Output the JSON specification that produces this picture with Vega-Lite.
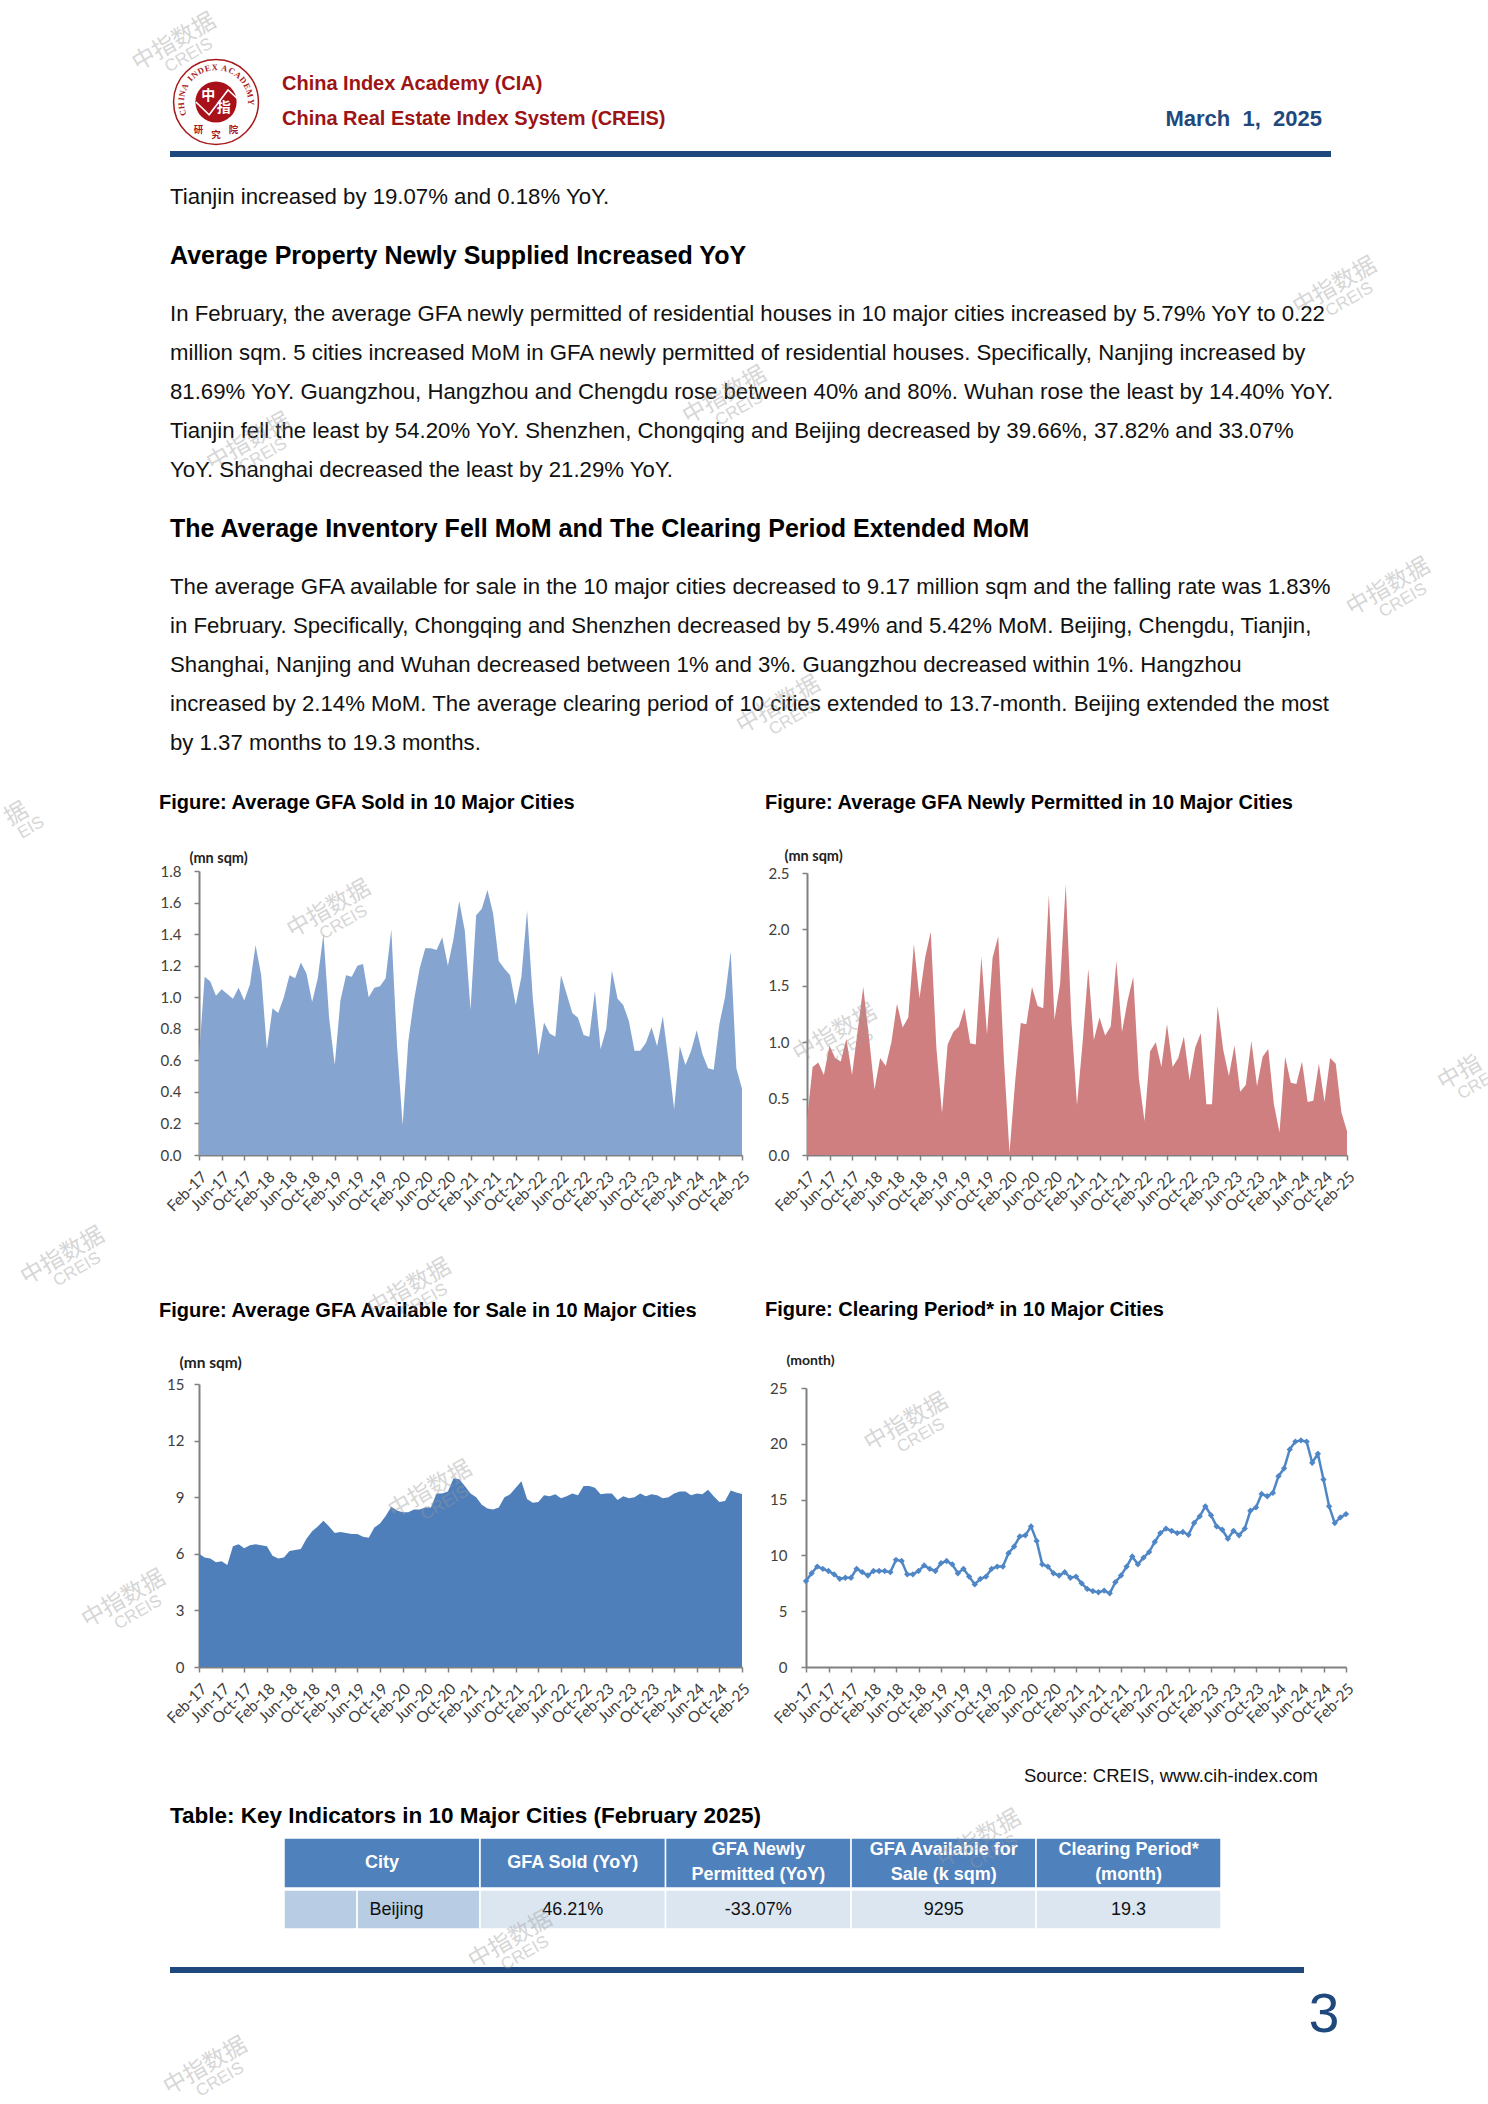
{"$schema":"https://vega.github.io/schema/vega-lite/v6.json","padding":0,"background":"white","config":{"view":{"stroke":null},"concat":{"spacing":0},"text":{"font":"Liberation Sans"}},
"datasets":{"blank":[{}],
"lines":[{"line":0,"kind":"body","text":"Tianjin increased by 19.07% and 0.18% YoY."},{"line":1.5,"kind":"head","text":"Average Property Newly Supplied Increased YoY"},{"line":3,"kind":"body","text":"In February, the average GFA newly permitted of residential houses in 10 major cities increased by 5.79% YoY to 0.22"},{"line":4,"kind":"body","text":"million sqm. 5 cities increased MoM in GFA newly permitted of residential houses. Specifically, Nanjing increased by"},{"line":5,"kind":"body","text":"81.69% YoY. Guangzhou, Hangzhou and Chengdu rose between 40% and 80%. Wuhan rose the least by 14.40% YoY."},{"line":6,"kind":"body","text":"Tianjin fell the least by 54.20% YoY. Shenzhen, Chongqing and Beijing decreased by 39.66%, 37.82% and 33.07%"},{"line":7,"kind":"body","text":"YoY. Shanghai decreased the least by 21.29% YoY."},{"line":8.5,"kind":"head","text":"The Average Inventory Fell MoM and The Clearing Period Extended MoM"},{"line":10,"kind":"body","text":"The average GFA available for sale in the 10 major cities decreased to 9.17 million sqm and the falling rate was 1.83%"},{"line":11,"kind":"body","text":"in February. Specifically, Chongqing and Shenzhen decreased by 5.49% and 5.42% MoM. Beijing, Chengdu, Tianjin,"},{"line":12,"kind":"body","text":"Shanghai, Nanjing and Wuhan decreased between 1% and 3%. Guangzhou decreased within 1%. Hangzhou"},{"line":13,"kind":"body","text":"increased by 2.14% MoM. The average clearing period of 10 cities extended to 13.7-month. Beijing extended the most"},{"line":14,"kind":"body","text":"by 1.37 months to 19.3 months."}],
"ring":[{"ch":"C","deg":-108},{"ch":"H","deg":-96},{"ch":"I","deg":-85},{"ch":"N","deg":-76},{"ch":"A","deg":-64},{"ch":"I","deg":-48},{"ch":"N","deg":-38},{"ch":"D","deg":-26},{"ch":"E","deg":-14},{"ch":"X","deg":-2},{"ch":"A","deg":14},{"ch":"C","deg":27},{"ch":"A","deg":39},{"ch":"D","deg":51},{"ch":"E","deg":63},{"ch":"M","deg":76},{"ch":"Y","deg":90}],
"seal":[{"ch":"研","deg":-148},{"ch":"究","deg":180},{"ch":"院","deg":148}],
"emblem":[{"ch":"中","deg":-50,"gap":"near"},{"ch":"指","deg":130,"gap":"far"}],
"roof":[{"u":-0.41,"v":0},{"u":-0.14,"v":-0.26},{"u":0.245,"v":0.245},{"u":0.51,"v":0}],
"header":[{"from":0,"to":1.046,"mid":0.523,"label":"City","rows":1},{"from":1.046,"to":2.036,"mid":1.541,"label":"GFA Sold (YoY)","rows":1},{"from":2.036,"to":3.026,"mid":2.531,"label":"GFA Newly\nPermitted (YoY)","rows":2},{"from":3.026,"to":4.013,"mid":3.52,"label":"GFA Available for\nSale (k sqm)","rows":2},{"from":4.013,"to":5,"mid":4.507,"label":"Clearing Period*\n(month)","rows":2}],
"body":[{"from":0,"to":0.39,"mid":0.195,"label":"","part":"city"},{"from":0.39,"to":1.046,"mid":0.6,"label":"Beijing","part":"city"},{"from":1.046,"to":2.036,"mid":1.541,"label":"46.21%","part":"value"},{"from":2.036,"to":3.026,"mid":2.531,"label":"-33.07%","part":"value"},{"from":3.026,"to":4.013,"mid":3.52,"label":"9295","part":"value"},{"from":4.013,"to":5,"mid":4.507,"label":"19.3","part":"value"}],
"marks":[{"across":11.7,"down":2.0,"cn":"中指数据","en":"CREIS"},{"across":89.7,"down":13.6,"cn":"中指数据","en":"CREIS"},{"across":48.7,"down":18.8,"cn":"中指数据","en":"CREIS"},{"across":16.7,"down":21.0,"cn":"中指数据","en":"CREIS"},{"across":93.3,"down":27.9,"cn":"中指数据","en":"CREIS"},{"across":52.3,"down":33.5,"cn":"中指数据","en":"CREIS"},{"across":1.1,"down":38.7,"cn":"据","en":"EIS"},{"across":22.1,"down":43.2,"cn":"中指数据","en":"CREIS"},{"across":98.1,"down":51.0,"cn":"中指","en":"CRE"},{"across":56.1,"down":49.1,"cn":"中指数据","en":"CREIS"},{"across":4.2,"down":59.7,"cn":"中指数据","en":"CREIS"},{"across":27.5,"down":61.2,"cn":"中指数据","en":"CREIS"},{"across":28.9,"down":70.8,"cn":"中指数据","en":"CREIS"},{"across":8.3,"down":76.0,"cn":"中指数据","en":"CREIS"},{"across":60.9,"down":67.6,"cn":"中指数据","en":"CREIS"},{"across":65.8,"down":87.4,"cn":"中指数据","en":"CREIS"},{"across":34.3,"down":92.2,"cn":"中指数据","en":"CREIS"},{"across":13.8,"down":98.2,"cn":"中指数据","en":"CREIS"}],
"monthly":[
{"month":"Feb-17","sold":0.62,"permitted":0.31,"available":6.0,"clearing":7.7},{"month":"Mar-17","sold":1.13,"permitted":0.78,"available":5.8,"clearing":8.4},{"month":"Apr-17","sold":1.10,"permitted":0.82,"available":5.75,"clearing":9.0},{"month":"May-17","sold":1.01,"permitted":0.71,"available":5.55,"clearing":8.8},{"month":"Jun-17","sold":1.05,"permitted":0.97,"available":5.6,"clearing":8.6},{"month":"Jul-17","sold":1.02,"permitted":0.86,"available":5.4,"clearing":8.3},{"month":"Aug-17","sold":0.99,"permitted":0.83,"available":6.4,"clearing":7.9},{"month":"Sep-17","sold":1.06,"permitted":1.03,"available":6.5,"clearing":8.0},{"month":"Oct-17","sold":0.98,"permitted":0.71,"available":6.3,"clearing":8.0},{"month":"Nov-17","sold":1.08,"permitted":1.1,"available":6.45,"clearing":8.8},{"month":"Dec-17","sold":1.33,"permitted":1.49,"available":6.5,"clearing":8.5},
{"month":"Jan-18","sold":1.14,"permitted":1.05,"available":6.45,"clearing":8.2},{"month":"Feb-18","sold":0.67,"permitted":0.58,"available":6.4,"clearing":8.6},{"month":"Mar-18","sold":0.93,"permitted":0.86,"available":5.9,"clearing":8.6},{"month":"Apr-18","sold":0.90,"permitted":0.79,"available":5.75,"clearing":8.6},{"month":"May-18","sold":1.0,"permitted":1.0,"available":5.8,"clearing":8.5},{"month":"Jun-18","sold":1.14,"permitted":1.34,"available":6.15,"clearing":9.6},{"month":"Jul-18","sold":1.12,"permitted":1.13,"available":6.2,"clearing":9.5},{"month":"Aug-18","sold":1.22,"permitted":1.22,"available":6.25,"clearing":8.3},{"month":"Sep-18","sold":1.15,"permitted":1.87,"available":6.8,"clearing":8.3},{"month":"Oct-18","sold":0.97,"permitted":1.39,"available":7.2,"clearing":8.6},{"month":"Nov-18","sold":1.12,"permitted":1.75,"available":7.45,"clearing":9.1},{"month":"Dec-18","sold":1.40,"permitted":1.98,"available":7.75,"clearing":8.8},
{"month":"Jan-19","sold":0.87,"permitted":0.95,"available":7.45,"clearing":8.6},{"month":"Feb-19","sold":0.57,"permitted":0.37,"available":7.1,"clearing":9.3},{"month":"Mar-19","sold":0.98,"permitted":0.98,"available":7.15,"clearing":9.5},{"month":"Apr-19","sold":1.14,"permitted":1.09,"available":7.1,"clearing":9.2},{"month":"May-19","sold":1.13,"permitted":1.14,"available":7.05,"clearing":8.4},{"month":"Jun-19","sold":1.20,"permitted":1.30,"available":7.05,"clearing":8.8},{"month":"Jul-19","sold":1.21,"permitted":0.99,"available":6.9,"clearing":8.1},{"month":"Aug-19","sold":1.0,"permitted":0.98,"available":6.85,"clearing":7.4},{"month":"Sep-19","sold":1.06,"permitted":1.76,"available":7.4,"clearing":7.9},{"month":"Oct-19","sold":1.07,"permitted":1.07,"available":7.6,"clearing":8.1},{"month":"Nov-19","sold":1.12,"permitted":1.75,"available":8.0,"clearing":8.8},{"month":"Dec-19","sold":1.43,"permitted":1.94,"available":8.5,"clearing":9.0},
{"month":"Jan-20","sold":0.70,"permitted":0.85,"available":8.3,"clearing":9.0},{"month":"Feb-20","sold":0.19,"permitted":0.02,"available":8.2,"clearing":10.2},{"month":"Mar-20","sold":0.72,"permitted":0.65,"available":8.2,"clearing":10.8},{"month":"Apr-20","sold":0.98,"permitted":1.17,"available":8.35,"clearing":11.7},{"month":"May-20","sold":1.18,"permitted":1.16,"available":8.35,"clearing":11.8},{"month":"Jun-20","sold":1.31,"permitted":1.49,"available":8.45,"clearing":12.6},{"month":"Jul-20","sold":1.31,"permitted":1.32,"available":8.45,"clearing":11.3},{"month":"Aug-20","sold":1.30,"permitted":1.30,"available":9.2,"clearing":9.2},{"month":"Sep-20","sold":1.38,"permitted":2.31,"available":9.2,"clearing":9.0},{"month":"Oct-20","sold":1.20,"permitted":1.20,"available":9.3,"clearing":8.4},{"month":"Nov-20","sold":1.37,"permitted":1.52,"available":10.0,"clearing":8.2},{"month":"Dec-20","sold":1.61,"permitted":2.40,"available":9.95,"clearing":8.5},
{"month":"Jan-21","sold":1.42,"permitted":1.2,"available":9.6,"clearing":8.0},{"month":"Feb-21","sold":0.92,"permitted":0.44,"available":9.2,"clearing":8.1},{"month":"Mar-21","sold":1.52,"permitted":1.0,"available":9.0,"clearing":7.5},{"month":"Apr-21","sold":1.56,"permitted":1.65,"available":8.6,"clearing":7.0},{"month":"May-21","sold":1.68,"permitted":1.02,"available":8.4,"clearing":6.8},{"month":"Jun-21","sold":1.53,"permitted":1.22,"available":8.35,"clearing":6.7},{"month":"Jul-21","sold":1.23,"permitted":1.06,"available":8.45,"clearing":6.85},{"month":"Aug-21","sold":1.18,"permitted":1.14,"available":9.0,"clearing":6.6},{"month":"Sep-21","sold":1.14,"permitted":1.72,"available":9.15,"clearing":7.6},{"month":"Oct-21","sold":0.95,"permitted":1.09,"available":9.5,"clearing":8.2},{"month":"Nov-21","sold":1.13,"permitted":1.37,"available":9.85,"clearing":9.0},{"month":"Dec-21","sold":1.55,"permitted":1.58,"available":8.9,"clearing":9.9},
{"month":"Jan-22","sold":1.0,"permitted":0.68,"available":8.7,"clearing":9.2},{"month":"Feb-22","sold":0.63,"permitted":0.30,"available":8.75,"clearing":9.8},{"month":"Mar-22","sold":0.84,"permitted":0.92,"available":9.1,"clearing":10.3},{"month":"Apr-22","sold":0.77,"permitted":1.0,"available":9.05,"clearing":11.2},{"month":"May-22","sold":0.75,"permitted":0.78,"available":9.15,"clearing":12.0},{"month":"Jun-22","sold":1.14,"permitted":1.16,"available":8.95,"clearing":12.4},{"month":"Jul-22","sold":1.02,"permitted":0.78,"available":9.05,"clearing":12.2},{"month":"Aug-22","sold":0.90,"permitted":0.86,"available":9.2,"clearing":12.0},{"month":"Sep-22","sold":0.87,"permitted":1.05,"available":9.1,"clearing":12.1},{"month":"Oct-22","sold":0.76,"permitted":0.66,"available":9.6,"clearing":11.85},{"month":"Nov-22","sold":0.75,"permitted":0.95,"available":9.6,"clearing":12.9},{"month":"Dec-22","sold":1.04,"permitted":1.08,"available":9.5,"clearing":13.5},
{"month":"Jan-23","sold":0.67,"permitted":0.45,"available":9.15,"clearing":14.4},{"month":"Feb-23","sold":0.80,"permitted":0.45,"available":9.2,"clearing":13.6},{"month":"Mar-23","sold":1.17,"permitted":1.32,"available":9.2,"clearing":12.6},{"month":"Apr-23","sold":0.99,"permitted":0.93,"available":8.85,"clearing":12.3},{"month":"May-23","sold":0.95,"permitted":0.70,"available":9.05,"clearing":11.5},{"month":"Jun-23","sold":0.85,"permitted":0.97,"available":8.95,"clearing":12.2},{"month":"Jul-23","sold":0.66,"permitted":0.56,"available":9.0,"clearing":11.8},{"month":"Aug-23","sold":0.66,"permitted":0.62,"available":9.2,"clearing":12.4},{"month":"Sep-23","sold":0.71,"permitted":1.01,"available":9.05,"clearing":14.0},{"month":"Oct-23","sold":0.81,"permitted":0.61,"available":9.15,"clearing":14.3},{"month":"Nov-23","sold":0.69,"permitted":0.87,"available":9.1,"clearing":15.5},{"month":"Dec-23","sold":0.88,"permitted":0.94,"available":8.95,"clearing":15.3},
{"month":"Jan-24","sold":0.6,"permitted":0.45,"available":9.0,"clearing":15.6},{"month":"Feb-24","sold":0.29,"permitted":0.20,"available":9.2,"clearing":17.1},{"month":"Mar-24","sold":0.69,"permitted":0.87,"available":9.3,"clearing":17.8},{"month":"Apr-24","sold":0.57,"permitted":0.64,"available":9.3,"clearing":19.5},{"month":"May-24","sold":0.66,"permitted":0.63,"available":9.1,"clearing":20.2},{"month":"Jun-24","sold":0.79,"permitted":0.83,"available":9.2,"clearing":20.3},{"month":"Jul-24","sold":0.64,"permitted":0.47,"available":9.15,"clearing":20.2},{"month":"Aug-24","sold":0.55,"permitted":0.48,"available":9.4,"clearing":18.3},{"month":"Sep-24","sold":0.54,"permitted":0.81,"available":9.05,"clearing":19.1},{"month":"Oct-24","sold":0.83,"permitted":0.47,"available":8.75,"clearing":16.8},{"month":"Nov-24","sold":1.0,"permitted":0.86,"available":8.8,"clearing":14.4},{"month":"Dec-24","sold":1.29,"permitted":0.81,"available":9.35,"clearing":12.9},
{"month":"Jan-25","sold":0.55,"permitted":0.38,"available":9.25,"clearing":13.4},{"month":"Feb-25","sold":0.42,"permitted":0.21,"available":9.17,"clearing":13.7}]},
"spacing":0,"bounds":"flush","vconcat":[
{"spacing":0,"bounds":"full","vconcat":[
{"width":10,"height":53,"data":{"name":"blank"},"mark":{"type":"point","opacity":0},"encoding":{}},
{"spacing":0,"bounds":"flush","hconcat":[
 {"width":167,"height":98,"data":{"name":"blank"},"mark":{"type":"point","opacity":0},"encoding":{}},
 {"width":98,"height":98,"layer":[
  {"data":{"name":"blank"},"mark":{"type":"point","shape":"circle","size":7200,"filled":false,"stroke":"#a8191c","strokeWidth":1.5,"opacity":1},"encoding":{}},
  {"data":{"name":"blank"},"mark":{"type":"point","shape":"circle","size":1700,"filled":true,"fill":"#a8111a","opacity":1},"encoding":{}},
  {"data":{"name":"roof"},"mark":{"type":"line","color":"white","strokeWidth":1.6},"encoding":{"x":{"field":"u","type":"quantitative","scale":{"domain":[-1,1]},"axis":null},"y":{"field":"v","type":"quantitative","scale":{"domain":[-1,1]},"axis":null},"order":{"field":"u"}}},
  {"data":{"name":"emblem"},"mark":{"type":"text","radius":10,"font":"Noto Sans CJK SC","fontSize":14,"color":"white","fontWeight":"bold"},"encoding":{"theta":{"field":"deg","type":"quantitative","scale":{"domain":[-180,180],"range":[-3.14159,3.14159]}},"text":{"field":"ch"}}},
  {"data":{"name":"ring"},"mark":{"type":"text","radius":35,"fontSize":8.5,"fontWeight":"bold","font":"Liberation Serif","color":"#a8191c"},"encoding":{"theta":{"field":"deg","type":"quantitative","scale":{"domain":[-180,180],"range":[-3.14159,3.14159]}},"angle":{"field":"deg","type":"quantitative","scale":{"domain":[-180,180],"range":[-180,180]}},"text":{"field":"ch"}}},
  {"data":{"name":"seal"},"mark":{"type":"text","radius":33,"fontSize":9.5,"font":"Noto Sans CJK SC","fontWeight":"bold","color":"#a8191c"},"encoding":{"theta":{"field":"deg","type":"quantitative","scale":{"domain":[-180,180],"range":[-3.14159,3.14159]}},"text":{"field":"ch"}}}
 ]},
 {"width":17,"height":98,"data":{"name":"blank"},"mark":{"type":"point","opacity":0},"encoding":{}},
 {"width":700,"height":98,"data":{"values":[{"row":"academy","t":"China Index Academy (CIA)"},{"row":"system","t":"China Real Estate Index System (CREIS)"}]},"mark":{"type":"text","align":"left","baseline":"middle","fontSize":20,"fontWeight":"bold","color":"#9c1414"},"encoding":{"x":{"datum":0,"type":"quantitative","scale":{"domain":[0,1]},"axis":null},"y":{"field":"row","type":"ordinal","scale":{"domain":["academy","system"],"range":[31,66],"padding":0},"axis":null},"text":{"field":"t"}}},
 {"width":340,"height":98,"data":{"values":[{"t":"March\u00a0\u00a01,\u00a0\u00a02025"}]},"mark":{"type":"text","align":"right","baseline":"middle","fontSize":22,"fontWeight":"bold","color":"#1f497d"},"encoding":{"x":{"datum":1,"type":"quantitative","scale":{"domain":[0,1]},"axis":null},"y":{"datum":"date","type":"ordinal","scale":{"domain":["date"],"range":[66,66],"padding":0},"axis":null},"text":{"field":"t"}}}
]},
{"spacing":0,"bounds":"flush","hconcat":[
 {"width":170,"height":6,"data":{"name":"blank"},"mark":{"type":"point","opacity":0},"encoding":{}},
 {"width":1161,"height":6,"view":{"fill":"#1f497d","stroke":null},"data":{"name":"blank"},"mark":{"type":"point","opacity":0},"encoding":{}}
]},
{"spacing":0,"bounds":"flush","hconcat":[
 {"width":170,"height":624,"data":{"name":"blank"},"mark":{"type":"point","opacity":0},"encoding":{}},
 {"width":1161,"height":624,"data":{"name":"lines"},"encoding":{"x":{"datum":0,"type":"quantitative","scale":{"domain":[0,1]},"axis":null},"y":{"field":"line","type":"quantitative","scale":{"domain":[-1.03,14.97],"reverse":true},"axis":null},"text":{"field":"text"}},"layer":[
  {"transform":[{"filter":"datum.kind==='body'"}],"mark":{"type":"text","align":"left","baseline":"middle","fontSize":22.2,"color":"#111111"}},
  {"transform":[{"filter":"datum.kind==='head'"}],"mark":{"type":"text","align":"left","baseline":"middle","fontSize":25,"fontWeight":"bold","color":"#000000"}}
 ]}
]},
{"width":10,"height":12,"data":{"name":"blank"},"mark":{"type":"point","opacity":0},"encoding":{}},
{"spacing":0,"bounds":"flush","hconcat":[
 {"width":199,"height":284,"data":{"name":"blank"},"mark":{"type":"point","opacity":0},"encoding":{}},
 {"width":543,"height":284,"title":{"text":"Figure: Average GFA Sold in 10 Major Cities","anchor":"start","frame":"group","font":"Liberation Sans","fontWeight":"bold","fontSize":20,"color":"#000000","offset":37,"dx":-40},"data":{"name":"monthly"},"mark":{"type":"area","color":"#85a5d0","opacity":1},"encoding":{"x":{"field":"month","type":"ordinal","sort":null,"scale":{"type":"point","padding":0},"axis":{"title":null,"values":["Feb-17","Jun-17","Oct-17","Feb-18","Jun-18","Oct-18","Feb-19","Jun-19","Oct-19","Feb-20","Jun-20","Oct-20","Feb-21","Jun-21","Oct-21","Feb-22","Jun-22","Oct-22","Feb-23","Jun-23","Oct-23","Feb-24","Jun-24","Oct-24","Feb-25"],"labelAngle":-45,"labelOverlap":false,"labelFont":"Lato","labelFontSize":15.5,"labelColor":"#404040","domainColor":"#808080","tickColor":"#808080","domainWidth":2,"tickWidth":1.5,"tickSize":5,"labelPadding":9,"labelDx":3}},"y":{"field":"sold","type":"quantitative","scale":{"domain":[0,1.8]},"axis":{"values":[0,0.2,0.4,0.6,0.8,1,1.2,1.4,1.6,1.8],"format":".1f","grid":false,"title":"(mn sqm)","titleAngle":0,"titleAlign":"left","titleBaseline":"middle","titleX":-10,"titleY":-13,"titleFont":"Lato","titleFontWeight":"bold","titleFontSize":14.5,"titleColor":"#222222","labelFont":"Lato","labelFontSize":15,"labelColor":"#404040","labelPadding":13,"domainColor":"#808080","tickColor":"#808080","domainWidth":2,"tickWidth":1.5,"tickSize":5}}}},
 {"width":65,"height":284,"data":{"name":"blank"},"mark":{"type":"point","opacity":0},"encoding":{}},
 {"width":540,"height":284,"title":{"text":"Figure: Average GFA Newly Permitted in 10 Major Cities","anchor":"start","frame":"group","font":"Liberation Sans","fontWeight":"bold","fontSize":20,"color":"#000000","offset":35,"dx":-42},"data":{"name":"monthly"},"mark":{"type":"area","color":"#cf7f80","opacity":1},"encoding":{"x":{"field":"month","type":"ordinal","sort":null,"scale":{"type":"point","padding":0},"axis":{"title":null,"values":["Feb-17","Jun-17","Oct-17","Feb-18","Jun-18","Oct-18","Feb-19","Jun-19","Oct-19","Feb-20","Jun-20","Oct-20","Feb-21","Jun-21","Oct-21","Feb-22","Jun-22","Oct-22","Feb-23","Jun-23","Oct-23","Feb-24","Jun-24","Oct-24","Feb-25"],"labelAngle":-45,"labelOverlap":false,"labelFont":"Lato","labelFontSize":15.5,"labelColor":"#404040","domainColor":"#808080","tickColor":"#808080","domainWidth":2,"tickWidth":1.5,"tickSize":5,"labelPadding":9,"labelDx":3}},"y":{"field":"permitted","type":"quantitative","scale":{"domain":[0,2.5],"range":[284,2]},"axis":{"values":[0,0.5,1,1.5,2,2.5],"format":".1f","grid":false,"title":"(mn sqm)","titleAngle":0,"titleAlign":"left","titleBaseline":"middle","titleX":-23,"titleY":-15,"titleFont":"Lato","titleFontWeight":"bold","titleFontSize":14.5,"titleColor":"#222222","labelFont":"Lato","labelFontSize":15,"labelColor":"#404040","labelPadding":13,"domainColor":"#808080","tickColor":"#808080","domainWidth":2,"tickWidth":1.5,"tickSize":5}}}}
]},
{"width":10,"height":85,"data":{"name":"blank"},"mark":{"type":"point","opacity":0},"encoding":{}},
{"spacing":0,"bounds":"flush","hconcat":[
 {"width":199,"height":283,"data":{"name":"blank"},"mark":{"type":"point","opacity":0},"encoding":{}},
 {"width":543,"height":283,"title":{"text":"Figure: Average GFA Available for Sale in 10 Major Cities","anchor":"start","frame":"group","font":"Liberation Sans","fontWeight":"bold","fontSize":20,"color":"#000000","offset":34,"dx":-40},"data":{"name":"monthly"},"mark":{"type":"area","color":"#4f7fba","opacity":1},"encoding":{"x":{"field":"month","type":"ordinal","sort":null,"scale":{"type":"point","padding":0},"axis":{"title":null,"values":["Feb-17","Jun-17","Oct-17","Feb-18","Jun-18","Oct-18","Feb-19","Jun-19","Oct-19","Feb-20","Jun-20","Oct-20","Feb-21","Jun-21","Oct-21","Feb-22","Jun-22","Oct-22","Feb-23","Jun-23","Oct-23","Feb-24","Jun-24","Oct-24","Feb-25"],"labelAngle":-45,"labelOverlap":false,"labelFont":"Lato","labelFontSize":15.5,"labelColor":"#404040","domainColor":"#808080","tickColor":"#808080","domainWidth":2,"tickWidth":1.5,"tickSize":5,"labelPadding":9,"labelDx":3}},"y":{"field":"available","type":"quantitative","scale":{"domain":[0,15]},"axis":{"values":[0,3,6,9,12,15],"grid":false,"title":"(mn sqm)","titleAngle":0,"titleAlign":"left","titleBaseline":"middle","titleX":-20,"titleY":-22,"titleFont":"Lato","titleFontWeight":"bold","titleFontSize":15.5,"titleColor":"#222222","labelFont":"Lato","labelFontSize":15,"labelColor":"#404040","labelPadding":10,"domainColor":"#808080","tickColor":"#808080","domainWidth":2,"tickWidth":1.5,"tickSize":5}}}},
 {"width":64,"height":283,"data":{"name":"blank"},"mark":{"type":"point","opacity":0},"encoding":{}},
 {"width":540,"height":283,"title":{"text":"Figure: Clearing Period* in 10 Major Cities","anchor":"start","frame":"group","font":"Liberation Sans","fontWeight":"bold","fontSize":20,"color":"#000000","offset":33,"dx":-41},"data":{"name":"monthly"},"mark":{"type":"line","color":"#4f86c6","strokeWidth":2.5,"point":{"shape":"diamond","size":40,"filled":true,"color":"#4f86c6"}},"encoding":{"x":{"field":"month","type":"ordinal","sort":null,"scale":{"type":"point","padding":0},"axis":{"title":null,"values":["Feb-17","Jun-17","Oct-17","Feb-18","Jun-18","Oct-18","Feb-19","Jun-19","Oct-19","Feb-20","Jun-20","Oct-20","Feb-21","Jun-21","Oct-21","Feb-22","Jun-22","Oct-22","Feb-23","Jun-23","Oct-23","Feb-24","Jun-24","Oct-24","Feb-25"],"labelAngle":-45,"labelOverlap":false,"labelFont":"Lato","labelFontSize":15.5,"labelColor":"#404040","domainColor":"#808080","tickColor":"#808080","domainWidth":2,"tickWidth":1.5,"tickSize":5,"labelPadding":9,"labelDx":3}},"y":{"field":"clearing","type":"quantitative","scale":{"domain":[0,25],"range":[283,4]},"axis":{"values":[0,5,10,15,20,25],"grid":false,"title":"(month)","titleAngle":0,"titleAlign":"left","titleBaseline":"middle","titleX":-20,"titleY":-24,"titleFont":"Lato","titleFontWeight":"bold","titleFontSize":14,"titleColor":"#222222","labelFont":"Lato","labelFontSize":15,"labelColor":"#404040","labelPadding":14,"domainColor":"#808080","tickColor":"#808080","domainWidth":2,"tickWidth":1.5,"tickSize":5}}}}
]},
{"width":10,"height":36,"data":{"name":"blank"},"mark":{"type":"point","opacity":0},"encoding":{}},
{"width":1318,"height":26,"data":{"values":[{"t":"Source: CREIS, www.cih-index.com"}]},"mark":{"type":"text","align":"right","baseline":"middle","fontSize":18.5,"color":"#111111"},"encoding":{"x":{"datum":1,"type":"quantitative","scale":{"domain":[0,1]},"axis":null},"text":{"field":"t"}}},
{"width":10,"height":14,"data":{"name":"blank"},"mark":{"type":"point","opacity":0},"encoding":{}},
{"spacing":0,"bounds":"flush","hconcat":[
 {"width":170,"height":26,"data":{"name":"blank"},"mark":{"type":"point","opacity":0},"encoding":{}},
 {"width":800,"height":26,"data":{"values":[{"t":"Table: Key Indicators in 10 Major Cities (February 2025)"}]},"mark":{"type":"text","align":"left","baseline":"middle","fontSize":22.5,"fontWeight":"bold","color":"#000000"},"encoding":{"x":{"datum":0,"type":"quantitative","scale":{"domain":[0,1]},"axis":null},"text":{"field":"t"}}}
]},
{"width":10,"height":8,"data":{"name":"blank"},"mark":{"type":"point","opacity":0},"encoding":{}},
{"spacing":0,"bounds":"flush","hconcat":[
 {"width":284,"height":50,"data":{"name":"blank"},"mark":{"type":"point","opacity":0},"encoding":{}},
 {"width":937,"height":50,"data":{"name":"header"},"layer":[
  {"mark":{"type":"rect","color":"#4f81bd","stroke":"white","strokeWidth":1.5},"encoding":{"x":{"field":"from","type":"quantitative","scale":{"domain":[0,5]},"axis":null},"x2":{"field":"to"}}},
  {"transform":[{"filter":"datum.rows===1"}],"mark":{"type":"text","fontSize":18,"fontWeight":"bold","color":"white","baseline":"middle"},"encoding":{"x":{"field":"mid","type":"quantitative","scale":{"domain":[0,5]},"axis":null},"text":{"field":"label"}}},
  {"transform":[{"filter":"datum.rows===2"}],"mark":{"type":"text","fontSize":18,"fontWeight":"bold","color":"white","lineBreak":"\n","lineHeight":25,"baseline":"middle","dy":-13},"encoding":{"x":{"field":"mid","type":"quantitative","scale":{"domain":[0,5]},"axis":null},"text":{"field":"label"}}}
 ]}
]},
{"spacing":0,"bounds":"flush","hconcat":[
 {"width":284,"height":39,"data":{"name":"blank"},"mark":{"type":"point","opacity":0},"encoding":{}},
 {"width":937,"height":39,"data":{"name":"body"},"layer":[
  {"mark":{"type":"rect","stroke":"white","strokeWidth":1.5},"encoding":{"x":{"field":"from","type":"quantitative","scale":{"domain":[0,5]},"axis":null},"x2":{"field":"to"},"color":{"field":"part","type":"nominal","scale":{"domain":["city","value"],"range":["#b8cce4","#dce6f1"]},"legend":null}}},
  {"mark":{"type":"text","fontSize":18,"color":"#111111","baseline":"middle"},"encoding":{"x":{"field":"mid","type":"quantitative","scale":{"domain":[0,5]},"axis":null},"text":{"field":"label"}}}
 ]}
]},
{"width":10,"height":37,"data":{"name":"blank"},"mark":{"type":"point","opacity":0},"encoding":{}},
{"spacing":0,"bounds":"flush","hconcat":[
 {"width":170,"height":6,"data":{"name":"blank"},"mark":{"type":"point","opacity":0},"encoding":{}},
 {"width":1134,"height":6,"view":{"fill":"#1f497d","stroke":null},"data":{"name":"blank"},"mark":{"type":"point","opacity":0},"encoding":{}}
]},
{"spacing":0,"bounds":"flush","hconcat":[
 {"width":1299,"height":84,"data":{"name":"blank"},"mark":{"type":"point","opacity":0},"encoding":{}},
 {"width":50,"height":84,"data":{"values":[{"t":"3"}]},"mark":{"type":"text","fontSize":55,"baseline":"middle","color":"#1f497d"},"encoding":{"text":{"field":"t"}}}
]}
]},
{"width":1488,"height":2104,"data":{"name":"marks"},"encoding":{"x":{"field":"across","type":"quantitative","scale":{"domain":[0,100]},"axis":null},"y":{"field":"down","type":"quantitative","scale":{"domain":[0,100],"reverse":true},"axis":null}},"layer":[
 {"mark":{"type":"text","font":"Noto Sans CJK SC","fontSize":23,"angle":330,"color":"#9a9a9a","opacity":0.4},"encoding":{"text":{"field":"cn"}}},
 {"mark":{"type":"text","font":"Liberation Sans","fontSize":17,"angle":330,"color":"#9a9a9a","opacity":0.4,"dx":6,"dy":19},"encoding":{"text":{"field":"en"}}}
]}
]}
